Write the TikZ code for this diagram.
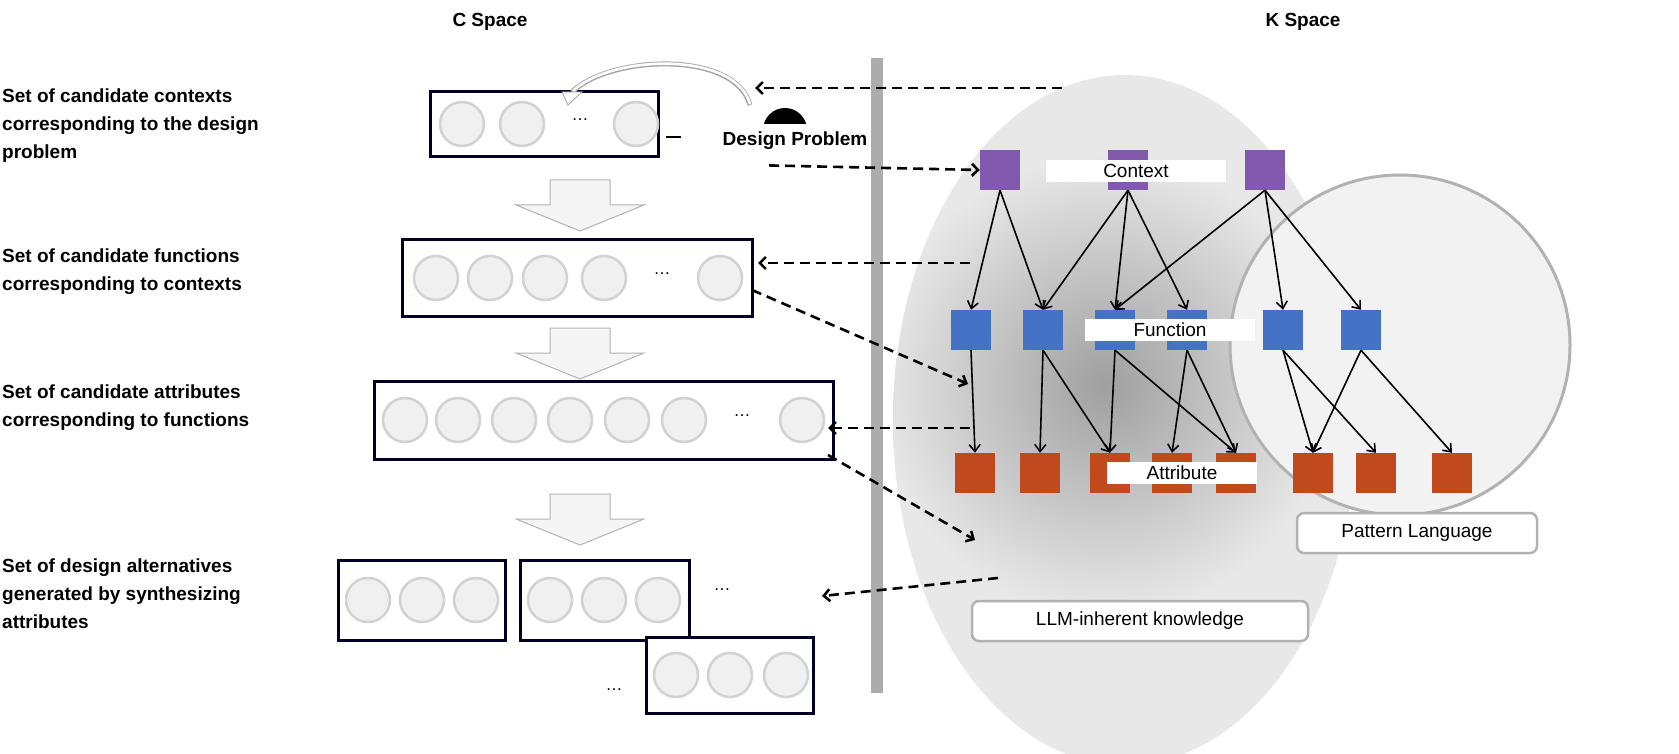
\documentclass[tikz,border=0pt]{standalone}
\usepackage{fontspec}
\setmainfont{Liberation Sans}
\usetikzlibrary{calc, arrows.meta}

\begin{document}
\begin{tikzpicture}
		[x=1pt,y=-1pt,line cap=butt,
		%Styles
		space title/.style={font=\fontsize{19}{22}\selectfont\bfseries},
		level text/.style={font=\fontsize{19}{28}\selectfont\bfseries,align=left,anchor=north west,inner sep=0pt},
		set box/.style={draw=black!85!blue,line width=3pt,fill=white},
		slot/.style={circle,draw=gray!35,line width=2.5pt,fill=gray!12,minimum size=44pt,inner sep=0pt},
		dots/.style={font=\fontsize{17}{17}\selectfont},
		link/.style={dashed,line width=2.6pt,dash pattern=on 10pt off 6pt,-{Straight Barb[length=6pt,width=12pt]}},
		tree edge/.style={line width=1.6pt,-{Straight Barb[length=7pt,width=11pt]}},
		ctx/.style={rectangle,fill=ctxcolor,minimum size=40pt,inner sep=0pt},
		fun/.style={rectangle,fill=funcolor,minimum size=40pt,inner sep=0pt},
		att/.style={rectangle,fill=attcolor,minimum size=40pt,inner sep=0pt},
		row label/.style={fill=white,font=\fontsize{19}{19}\selectfont,inner sep=4pt,minimum width=150pt},
		region label/.style={draw=gray!60,line width=2.5pt,rounded corners=7pt,fill=white,font=\fontsize{19}{19}\selectfont,minimum height=40pt}
		]

		%Colors
		\definecolor{ctxcolor}{HTML}{8159AE}
		\definecolor{funcolor}{HTML}{4472C4}
		\definecolor{attcolor}{HTML}{C04A1E}

		\useasboundingbox (0,0) rectangle (1679,754);

		%K space regions
		\begin{scope}
			\clip (1125,420) ellipse [x radius=232, y radius=345];
			\fill[gray!18] (1125,420) ellipse [x radius=232, y radius=345];
			\shade[inner color=gray!75, outer color=gray!18] (1105,385) circle (230);
		\end{scope}
		\draw[gray!60,line width=3pt,fill=gray!10] (1400,345) circle (170);

		%title and bar
		\node[space title] (cspace) at (490,22) {C Space};
		\node[space title] (kspace) at (1303,22) {K Space};
		\fill[gray!65] (871,58) rectangle (883,693);

		%level texts
		\node[level text] (t1) at (2,89) {Set of candidate contexts\\corresponding to the design\\problem};
		\node[level text] (t2) at (2,249) {Set of candidate functions\\corresponding to contexts};
		\node[level text] (t3) at (2,385) {Set of candidate attributes\\corresponding to functions};
		\node[level text] (t4) at (2,559) {Set of design alternatives\\generated by synthesizing\\attributes};

		%set boxes
		\draw[set box] (430,92) rectangle (658,157);
		\foreach \x in {462,522,636} \node[slot] at (\x,124) {};
		\node[dots] at (580,120) {\dots};

		\draw[set box] (402,240) rectangle (752,316);
		\foreach \x in {436,490,545,604,720} \node[slot] at (\x,278) {};
		\node[dots] at (662,274) {\dots};

		\draw[set box] (374,381) rectangle (833,459);
		\foreach \x in {405,458,514,570,627,684,802} \node[slot] at (\x,420) {};
		\node[dots] (d3) at (742,416) {\dots};

		\draw[set box] (338,560) rectangle (505,640);
		\foreach \x in {368,422,476} \node[slot] at (\x,600) {};
		\draw[set box] (520,560) rectangle (689,640);
		\foreach \x in {550,604,658} \node[slot] at (\x,600) {};
		\node[dots] at (722,590) {\dots};
		\draw[set box] (646,637) rectangle (813,713);
		\foreach \x in {676,730,786} \node[slot] at (\x,675) {};
		\node[dots] at (614,690) {\dots};

		%step arrows
		\foreach \y in {180,328,494}
			\draw[gray!60,fill=gray!8,line width=1pt] (550,\y) -- (610,\y) -- (610,\y+25) -- (644,\y+25) -- (580,\y+51) -- (516,\y+25) -- (550,\y+25) -- cycle;

		%design problem
		\fill[black] (763,130) arc (180:360:22) -- cycle;
		\fill[white] (760,124) rectangle (810,132);
		\node[font=\fontsize{19}{19}\selectfont\bfseries] (dp) at (795,141) {Design Problem};
		\draw[line width=2.6pt] (666,137) -- (681,137);
		\draw[gray!70,line width=5pt] (750,105) .. controls (735,50) and (610,55) .. (572,92);
		\draw[white,line width=2.6pt] (750,104) .. controls (735,50) and (610,55) .. (573,91);
		\draw[gray!70,fill=white,line width=0.8pt] (562,92) -- (582,92) -- (568,105) -- cycle;

		%K space tree
		\foreach \x [count=\i] in {1000,1128,1265} \node[ctx] (c\i) at (\x,170) {};
		\foreach \x [count=\i] in {971,1043,1115,1187,1283,1361} \node[fun] (f\i) at (\x,330) {};
		\foreach \x [count=\i] in {975,1040,1110,1172,1236,1313,1376,1452} \node[att] (a\i) at (\x,473) {};

		\foreach \s/\t in {c1/f1,c1/f2,c2/f2,c2/f3,c2/f4,c3/f3,c3/f5,c3/f6,
				f1/a1,f2/a2,f2/a3,f3/a3,f3/a5,f4/a4,f4/a5,f5/a6,f5/a7,f6/a6,f6/a8}
			\draw[tree edge] (\s.south) -- (\t.north);

		\node[row label,minimum width=180pt] (lctx) at (1136,171) {Context};
		\node[row label,minimum width=170pt] (lfun) at (1170,330) {Function};
		\node[row label,minimum width=150pt] (latt) at (1182,473) {Attribute};

		\node[region label,minimum width=240pt] (pl) at (1417,533) {Pattern Language};
		\node[region label,minimum width=336pt] (llm) at (1140,621) {LLM-inherent knowledge};

		%links
		\coordinate (k1) at (1062,88);
		\coordinate (k2) at (970,263);
		\coordinate (k3) at (970,428);
		\coordinate (k4) at (998,578);
		\coordinate (s2) at (752,290);
		\coordinate (s3) at (828,455);
		\draw[link] (k1) -- (755,88);
		\draw[link] (dp.south west) ++(50,12) coordinate (dps) -- (c1.west);
		\draw[link] (k2) -- (758,263);
		\draw[link] (s2) -- (968,384);
		\draw[link] (k3) -- (828,428);
		\draw[link] (s3) -- (975,540);
		\draw[link] (k4) -- (822,596);
\end{tikzpicture}
\end{document}
